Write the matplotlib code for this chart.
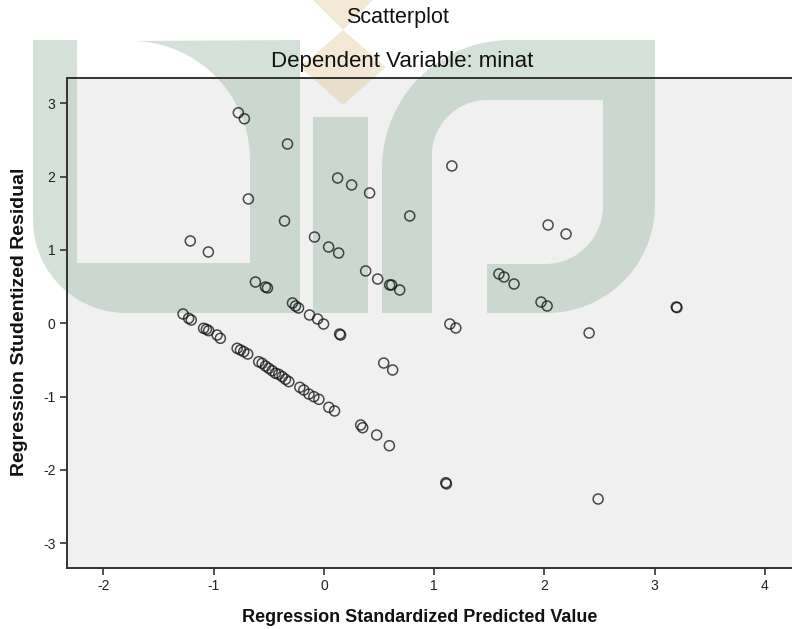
import matplotlib
matplotlib.use("Agg")
import matplotlib.pyplot as plt
import numpy as np
from matplotlib.patches import Polygon

plt.rcParams["font.family"] = ["Liberation Sans", "DejaVu Sans"]

# scattered points (standardized predicted, studentized residual)
pred_upper = [-0.776, -0.721, -0.330, -0.685, -1.212, -1.048, -0.357, 0.125, 0.252, 0.415,
              1.161, -0.085, 0.043, 0.134, 0.779, 0.379, 0.488, 0.597, 0.615, 0.688,
              -0.621, -0.530, -0.512, -0.285, -0.257, -0.230, -0.130, -0.057, -0.003, 0.143,
              0.152, 2.034, 2.197, 1.588, 1.634, 1.725, 1.970, 2.025, 3.197, 3.203,
              1.143, 1.197, 2.406, 0.543, 0.624, 0.479, 0.594, 1.106, 1.112, 2.488]
resid_upper = [2.872, 2.790, 2.446, 1.696, 1.123, 0.973, 1.396, 1.982, 1.887, 1.778,
               2.146, 1.177, 1.041, 0.959, 1.464, 0.714, 0.604, 0.523, 0.523, 0.454,
               0.563, 0.495, 0.482, 0.277, 0.236, 0.209, 0.113, 0.059, -0.010, -0.146,
               -0.160, 1.341, 1.218, 0.673, 0.632, 0.536, 0.290, 0.236, 0.222, 0.215,
               -0.010, -0.064, -0.132, -0.542, -0.637, -1.524, -1.670, -2.175, -2.190, -2.397]

# points along the lower diagonal band
pred_diag = [-1.278, -1.227, -1.203, -1.091, -1.066, -1.045, -0.969, -0.939, -0.787, -0.757,
             -0.727, -0.691, -0.591, -0.560, -0.530, -0.500, -0.469, -0.439, -0.409, -0.378,
             -0.348, -0.318, -0.218, -0.182, -0.136, -0.091, -0.045, 0.045, 0.097, 0.334,
             0.352]
resid_diag = [0.127, 0.068, 0.045, -0.068, -0.082, -0.101, -0.160, -0.205, -0.341, -0.364,
              -0.387, -0.419, -0.524, -0.546, -0.583, -0.614, -0.647, -0.682, -0.696, -0.728,
              -0.764, -0.796, -0.873, -0.910, -0.965, -1.001, -1.037, -1.146, -1.196, -1.387,
              -1.424]

x_ticks = [-2, -1, 0, 1, 2, 3, 4]
y_ticks = [-3, -2, -1, 0, 1, 2, 3]

W, H = 792, 629


def arc(cx, cy, r, a0, a1, n=24):
    # points on a circle in pixel space (y down), angles in degrees
    t = np.radians(np.linspace(a0, a1, n))
    return list(zip(cx + r * np.cos(t), cy + r * np.sin(t)))


def add_watermark(fig, ax):
    # faint "uin" logo behind the points
    u_glyph = ([(33, 40), (77, 40), (77, 263), (250, 263)]
               + arc(131, 160, 119, 0, -90)
               + [(300, 40), (300, 313)]
               + arc(126, 220, 93, 90, 180))
    i_bar = [(313, 117), (368, 117), (368, 313), (313, 313)]
    n_glyph = ([(382, 313)]
               + arc(510, 168, 128, 180, 270)
               + [(655, 40)]
               + arc(547, 205, 108, 0, 90)
               + [(487, 313), (487, 264)]
               + arc(545, 206, 58, 90, 0)
               + [(603, 100)]
               + arc(487, 155, 55, -90, -180)
               + [(432, 313)])
    dot_low = [(343, 30), (386, 67), (343, 105), (300, 67)]
    dot_high = [(343, -56), (386, -13), (343, 30), (300, -13)]
    green, beige = "#91b6a2", "#debe82"
    shapes = [(u_glyph, green, 0.4), (i_bar, green, 0.4), (n_glyph, green, 0.4),
              (dot_low, beige, 0.35), (dot_high, beige, 0.35)]
    for pts, color, alpha in shapes:
        xy = [(px / W, 1 - py / H) for px, py in pts]
        ax.add_patch(Polygon(xy, closed=True, transform=fig.transFigure, facecolor=color,
                             edgecolor="none", alpha=alpha, clip_on=False, zorder=1))


fig = plt.figure(figsize=(W / 100, H / 100), dpi=100)
ax = fig.add_axes([66.7 / W, 1 - 568 / H, 1 - 66.7 / W + 0.002, (568 - 78.3) / H])
ax.set_facecolor("#f0f0f0")
add_watermark(fig, ax)

x = np.array(pred_upper + pred_diag)
y = np.array(resid_upper + resid_diag)
ax.scatter(x, y, s=52, facecolors="none", edgecolors="#111111", linewidths=1.1, alpha=0.75, zorder=3)

ax.set_xlim(-2.333, 4.261)
ax.set_ylim(-3.338, 3.342)
ax.set_xticks(x_ticks)
ax.set_yticks(y_ticks)
ax.set_xticklabels([str(v) for v in x_ticks])
ax.set_yticklabels([str(v) for v in y_ticks])
ax.tick_params(direction="out", length=5, width=1.2, color="#333333", labelsize=10,
               labelcolor="#222222", pad=3)
for side in ["left", "bottom", "top"]:
    ax.spines[side].set_color("#333333")
    ax.spines[side].set_linewidth(1.4)
ax.spines["right"].set_visible(False)

fig.text(398 / W, 1 - 18 / H, "Scatterplot", ha="center", va="center", fontsize=15.5, color="#111111")
fig.text(402 / W, 1 - 62 / H, "Dependent Variable: minat", ha="center", va="center",
         fontsize=16, color="#111111")
fig.text(420 / W, 1 - 617 / H, "Regression Standardized Predicted Value", ha="center",
         va="center", fontsize=13, fontweight="bold", color="#111111")
fig.text(20 / W, 1 - 322 / H, "Regression Studentized Residual", ha="center", va="center",
         rotation=90, fontsize=14, fontweight="bold", color="#111111")

fig.savefig("out.png", dpi=100)
plt.close(fig)
